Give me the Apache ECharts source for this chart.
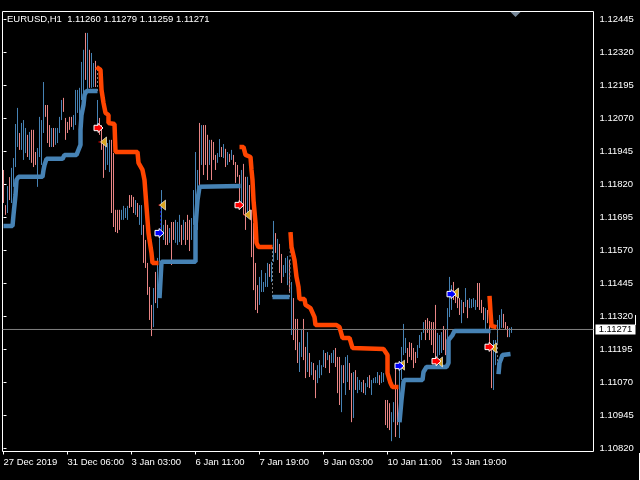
<!DOCTYPE html>
<html><head><meta charset="utf-8">
<style>html,body{margin:0;padding:0;background:#000}#c{width:640px;height:480px}</style>
<script src="https://cdn.jsdelivr.net/npm/echarts@6/dist/echarts.min.js"></script>
</head><body><div id="c"></div><script>
const titleText='EURUSD,H1  1.11260 1.11279 1.11259 1.11271';
const timeLabels=['27 Dec 2019','31 Dec 06:00','3 Jan 03:00','6 Jan 11:00','7 Jan 19:00','9 Jan 03:00','10 Jan 11:00','13 Jan 19:00'];
const priceTicks=[1.10820,1.10945,1.11070,1.11195,1.11320,1.11445,1.11570,1.11695,1.11820,1.11945,1.12070,1.12195,1.12320,1.12445];
const lastPrice=1.11271;
const highs=[11875,11742,11814,11848,11883,11920,12049,12110,12015,12053,12064,12034,12008,12019,12027,12027,11943,11958,12076,12064,
12208,12121,12121,12045,12034,12034,12034,12034,12076,12140,12148,12072,12057,12076,12076,12083,12178,12178,12186,12284,
12330,12394,12394,12330,12318,12280,12288,12140,12072,12045,11977,11989,11977,11989,11989,11939,11724,11724,11724,11724,
11739,11731,11739,11780,11780,11773,11761,11750,11742,11742,11667,11610,11523,11432,11364,11428,11489,11542,11648,11799,
11667,11686,11667,11655,11678,11678,11686,11678,11705,11667,11686,11678,11705,11686,11693,11799,11943,11875,12053,12045,
12045,12045,12008,11989,11989,11981,11932,11939,11992,11962,11973,11955,11943,11936,11951,11932,11905,11894,11856,11875,
11898,11849,11849,11818,11724,11674,11523,11439,11470,11496,11451,11485,11523,11519,11527,11682,11636,11614,11595,11557,
11515,11542,11549,11534,11451,11390,11311,11311,11223,11269,11311,11205,11261,11182,11148,11144,11117,11136,11155,11136,
11193,11182,11186,11174,11182,11193,11201,11167,11167,11136,11136,11167,11174,11144,11106,11110,11117,11091,11080,11072,
11080,11068,11091,11098,11080,11087,11091,11110,11098,11110,11106,11004,11004,10992,10958,10996,11125,11049,11148,11205,
11292,11239,11201,11223,11220,11201,11186,11212,11250,11261,11299,11307,11314,11303,11299,11299,11364,11258,11250,11261,
11284,11269,11352,11470,11439,11451,11409,11402,11390,11383,11375,11428,11383,11390,11386,11390,11383,11447,11447,11383,
11356,11352,11345,11288,11193,11231,11231,11307,11326,11348,11330,11299,11284,11277,11280];
const lows=[11750,11705,11712,11761,11750,11811,11886,11962,11951,11951,11913,11939,11924,11913,11902,11886,11894,11811,11924,11894,
12015,12076,11977,11962,11962,11962,11970,11977,12015,12064,12095,11989,12015,12027,12038,12027,12045,12091,12064,12140,
12167,12216,12178,12186,12186,12189,12189,12027,12008,11951,11845,11875,11894,11867,11712,11659,11640,11636,11648,11686,
11686,11693,11686,11731,11735,11712,11705,11697,11667,11629,11523,11504,11402,11307,11246,11280,11371,11352,11527,11636,
11610,11591,11591,11599,11515,11610,11599,11591,11602,11591,11610,11591,11610,11568,11610,11667,11629,11648,11799,11894,
11856,11894,11837,11894,11837,11913,11875,11902,11924,11924,11920,11886,11894,11905,11913,11894,11826,11849,11742,11735,
11705,11648,11705,11712,11545,11420,11345,11333,11364,11413,11413,11432,11432,11470,11451,11527,11561,11534,11485,11447,
11470,11485,11439,11409,11250,11231,11193,11144,11110,11167,11155,11087,11110,11091,11098,11080,11011,11068,11087,11098,
11129,11125,11155,11106,11144,11144,11129,11030,10985,10958,11068,11023,11072,11042,10920,10936,11042,11030,11042,11034,
11030,11023,11053,11049,11023,11068,11068,11068,11061,11068,11072,10909,10898,10890,10848,10920,10864,10909,10860,11080,
11174,11182,11144,11167,11155,11125,11144,11163,11201,11231,11258,11231,11258,11231,11212,11182,11163,11167,11174,11182,
11193,11174,11220,11318,11345,11383,11371,11352,11326,11295,11333,11356,11314,11352,11352,11356,11345,11356,11345,11333,
11307,11273,11295,11193,11049,11042,11136,11220,11269,11277,11277,11269,11242,11242,11258];
const barSide='ppbpbbbbpbbbpbpppbbbbpppbpbbbbpppppbbbbbbpbpbbpbpppbbbpppppbbbbpppbpbbpppppbpbbbbppbppbbbpbpppbbbbpbpppbpppbbpbpbpbppppbppbpppppbbbbbpbbpbppbbbpbpppbbppbpbppbbbbpbpbbpppbpbbppbpbbbpbbpbbbbpbbpppbbppbbbbpppppbbbbppppppbbbppbbbppppbpbpbbbbppppbpppbbbbbpppbb';
const blue1=[[0,11663],[4.5,11663],[5,11705],[5.5,11742],[6,11780],[6.5,11837],[7.5,11849],[19.5,11849],[20,11875],[20.5,11894],[21.5,11917],[29.5,11917],[30.5,11932],[36.5,11932],[37.5,11951],[38.5,11970],[38.5,12027],[39,12083],[40,12121],[40.5,12159],[41.5,12174],[47,12174]];
const red1=[[46.5,12265],[48.5,12254],[49,12178],[50,12129],[51,12091],[52.5,12083],[52.5,12053],[55.5,12049],[56,11943],[67,11943],[67.5,11902],[69.5,11875],[70.5,11837],[71.5,11735],[72.5,11636],[73,11610],[74,11561],[74.5,11523],[77.5,11523]];
const blue2=[[78,11390],[78.5,11458],[79,11527],[96,11527],[96,11583],[96,11659],[97,11761],[98,11811],[118.5,11814]];
const red2=[[118,11962],[120,11962],[121,11932],[123.5,11924],[124,11875],[124.5,11837],[125,11761],[126,11674],[126.5,11599],[127.5,11583],[134.5,11583]];
const blue3=[[134.5,11394],[143,11394]];
const red3=[[143.5,11640],[144,11583],[145.5,11534],[146.5,11470],[147.5,11432],[148,11386],[150.5,11386],[151,11364],[153.5,11352],[155.5,11318],[156,11288],[166.5,11288],[168,11280],[169.5,11239],[173,11239],[174.5,11201],[190,11197],[192,11174],[192,11106],[193.5,11068],[194.5,11053],[197.5,11053]];
const blue4=[[198,10920],[199,11004],[200,11072],[200.5,11080],[209.5,11080],[210,11110],[211.5,11129],[221.5,11129],[222.5,11144],[222.5,11231],[224.5,11250],[225.5,11265],[243.5,11265]];
const red4=[[243,11398],[243.5,11337],[244,11284],[246.5,11280]];
const blue5=[[247.5,11102],[248,11144],[249.5,11174],[253.5,11178]];
const redArrows=[[47.5,12034],[118,11742],[216.5,11151],[243,11205]];
const blueArrows=[[78,11636],[198,11133],[224,11405]];
const goldMarks=[[50,11981],[79.5,11742],[122,11705],[199,11136],[218,11148],[226,11409],[245,11201]];
const greyLinks=[[[47,12174],[47,12265]],[[134.5,11583],[134.5,11394]],[[143,11394],[143.5,11640]],[[247,11280],[247,11102]]];
const blueLinks=[[[78.5,11636],[78.5,11742]]];
const redLinks=[[[47.5,11981],[49,11981]],[[77.5,11742],[79,11742]],[[120,11705],[121.5,11705]]];
const shiftMark=[[256,12475]];

const F='"Liberation Sans"';
const FS=9.5;
const P=v=>1+v/100000;
const pts=a=>a.map(p=>[p[0],P(p[1])]);
const thick=(a,c)=>({type:'line',data:pts(a),showSymbol:false,symbol:'none',z:5,silent:true,animation:false,lineStyle:{color:c,width:4.5,join:'bevel',cap:'butt'}});
const link=(a,c)=>({type:'line',data:pts(a),showSymbol:false,symbol:'none',z:4,silent:true,animation:false,lineStyle:{color:c,width:1,type:[2,2]}});
const ARROW='path://M0,2 L4.5,2 L4.5,0 L10,5 L4.5,10 L4.5,8 L0,8Z';
const GOLD='path://M10,0 L0,5 L10,10Z';
const series=[
 {type:'custom',z:2,silent:true,animation:false,clip:true,
  data:highs.map((h,i)=>[i,P(h),P(lows[i]),barSide[i]==='b'?1:0]),
  encode:{x:0,y:[1,2]},
  renderItem:(ps,api)=>{const a=api.coord([api.value(0),api.value(1)]),b=api.coord([api.value(0),api.value(2)]);
   const x=Math.floor(a[0])+0.5;
   return {type:'line',shape:{x1:x,y1:a[1],x2:x,y2:b[1]},style:{stroke:api.value(3)?'#4682b4':'#e98585',lineWidth:1}};}},
 {type:'line',z:3,silent:true,animation:false,symbol:'none',data:[[-0.5,lastPrice],[295,lastPrice]],lineStyle:{color:'#808080',width:1},
  markPoint:{silent:true,animation:false,symbol:'rect',symbolSize:[40,10],symbolOffset:[22,0],itemStyle:{color:'#fff'},
   label:{show:true,formatter:lastPrice.toFixed(5),color:'#000',fontFamily:F,fontSize:FS},
   data:[{coord:[295,lastPrice]}]}},
 ...greyLinks.map(a=>link(a,'#808080')),
 ...blueLinks.map(a=>link(a,'#0000b0')),
 ...redLinks.map(a=>link(a,'#ff0000')),
 thick(blue1,'#4682b4'),thick(blue2,'#4682b4'),thick(blue3,'#4682b4'),thick(blue4,'#4682b4'),thick(blue5,'#4682b4'),
 thick(red1,'#ff4500'),thick(red2,'#ff4500'),thick(red3,'#ff4500'),thick(red4,'#ff4500'),
 {type:'scatter',z:8,silent:true,animation:false,data:pts(goldMarks),symbol:GOLD,symbolSize:[6,10],itemStyle:{color:'#daa520',borderColor:'#fff',borderWidth:0.6,opacity:1}},
 {type:'scatter',z:9,silent:true,animation:false,data:pts(redArrows),symbol:ARROW,symbolSize:9,itemStyle:{color:'#ff0000',borderColor:'#fff',borderWidth:1,opacity:1}},
 {type:'scatter',z:9,silent:true,animation:false,data:pts(blueArrows),symbol:ARROW,symbolSize:9,itemStyle:{color:'#0000ff',borderColor:'#fff',borderWidth:1,opacity:1}},
 {type:'scatter',z:9,silent:true,animation:false,clip:false,data:pts(shiftMark),symbol:'triangle',symbolRotate:180,symbolSize:[10,5],symbolOffset:[0,3],itemStyle:{color:'#778899',opacity:1}}
];
const chart=echarts.init(document.getElementById('c'),null,{renderer:'canvas'});
const tickIdx=timeLabels.map((_,k)=>k*32);
chart.setOption({
 backgroundColor:'#000',animation:false,
 title:{text:titleText,left:7,top:14,padding:0,textStyle:{color:'#fff',fontFamily:F,fontSize:FS,fontWeight:'normal'}},
 grid:{left:2.5,top:11.5,width:591,height:440,show:true,borderColor:'#fff',borderWidth:1,backgroundColor:'#000',containLabel:false},
 xAxis:{type:'value',min:-0.5,max:295,splitLine:{show:false},axisLine:{show:false},
  axisTick:{show:true,length:3,lineStyle:{color:'#fff'},customValues:tickIdx},
  axisLabel:{show:true,color:'#fff',fontFamily:F,fontSize:FS,align:'left',margin:6,customValues:tickIdx,
   formatter:v=>timeLabels[Math.round(v/32)]||''}},
 yAxis:{type:'value',position:'right',min:P(10809),max:P(12475),splitLine:{show:false},axisLine:{show:false},
  axisTick:{show:true,length:3,lineStyle:{color:'#fff'},customValues:priceTicks},
  axisLabel:{show:true,color:'#fff',fontFamily:F,fontSize:FS,margin:6,customValues:priceTicks,formatter:v=>v.toFixed(5)}},
 graphic:[
  {type:'line',silent:true,shape:{x1:635.5,y1:315,x2:635.5,y2:325},style:{stroke:'#fff',lineWidth:1}},
  {type:'line',silent:true,shape:{x1:639.5,y1:453,x2:639.5,y2:480},style:{stroke:'#fff',lineWidth:1}}
 ],
 series
});
</script></body></html>
